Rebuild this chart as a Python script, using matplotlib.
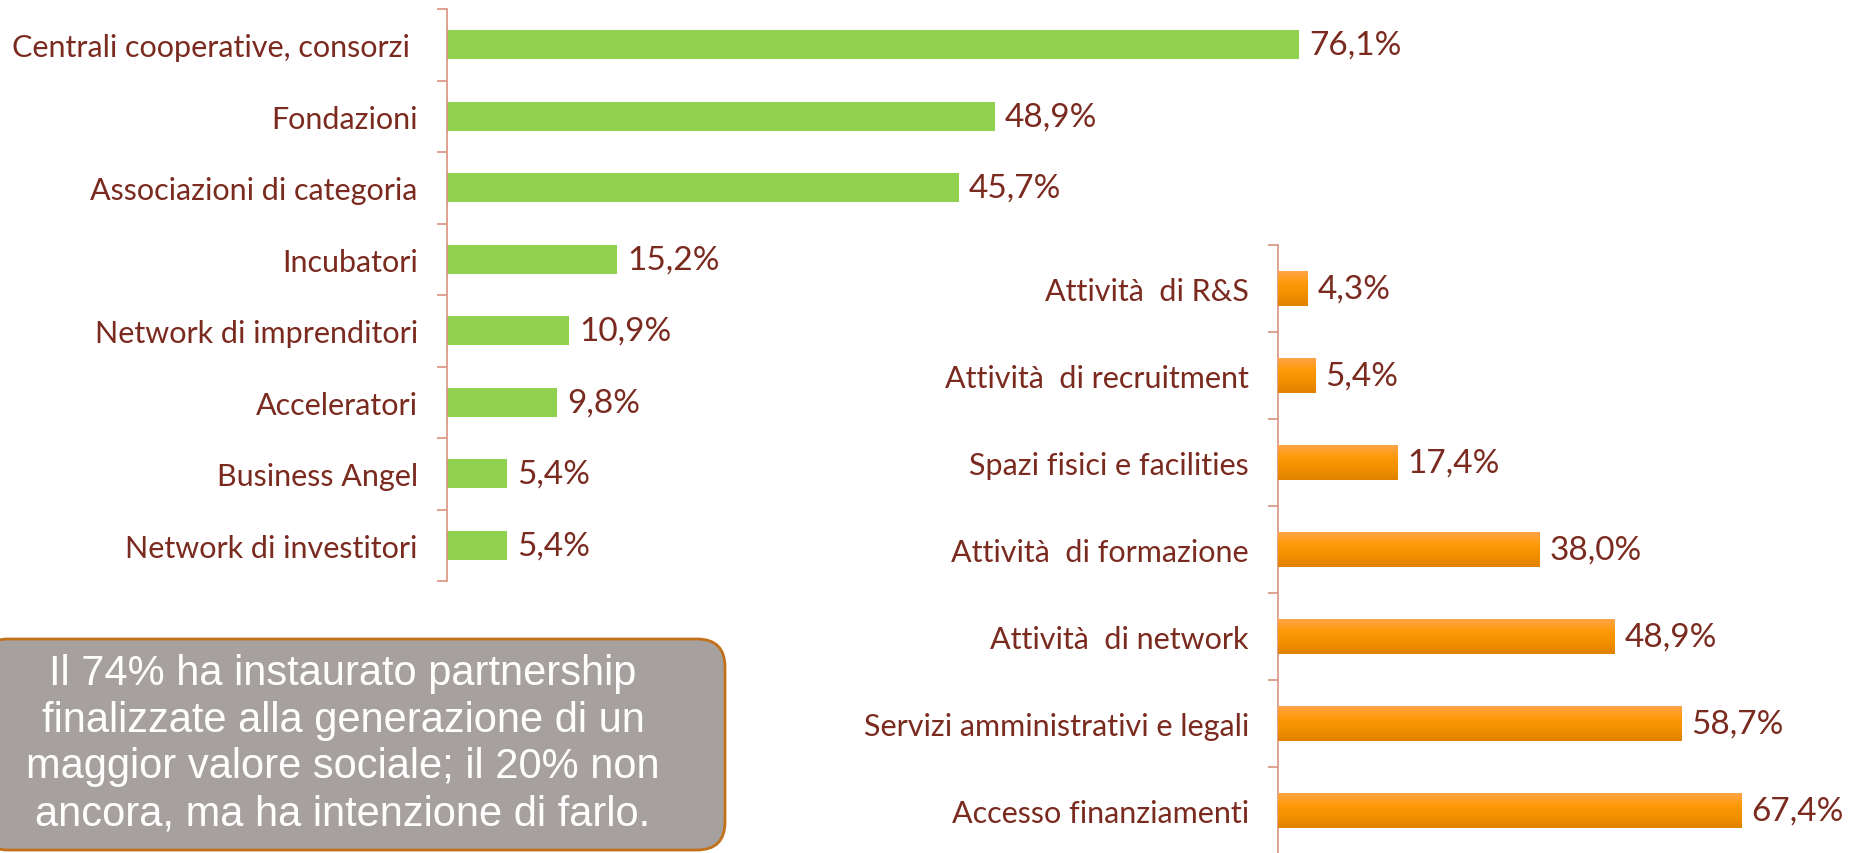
import numpy as np
import matplotlib
matplotlib.use("Agg")
from matplotlib import pyplot as plt
from matplotlib.patches import FancyBboxPatch
from matplotlib.colors import LinearSegmentedColormap

# data
partner_labels = ["Centrali cooperative, consorzi ", "Fondazioni", "Associazioni di categoria",
                  "Incubatori", "Network di imprenditori", "Acceleratori",
                  "Business Angel", "Network di investitori"]
partner_values = [76.1, 48.9, 45.7, 15.2, 10.9, 9.8, 5.4, 5.4]

service_labels = ["Attività  di R&S", "Attività  di recruitment", "Spazi fisici e facilities",
                  "Attività  di formazione", "Attività  di network",
                  "Servizi amministrativi e legali", "Accesso finanziamenti"]
service_values = [4.3, 5.4, 17.4, 38.0, 48.9, 58.7, 67.4]

note = ("Il 74% ha instaurato partnership\nfinalizzate alla generazione di un\n"
        "maggior valore sociale; il 20% non\nancora, ma ha intenzione di farlo.")

W, H = 1867, 854
TXT = "#7a2a1e"
AXC = "#d9927f"
FONT = ["Lato", "DejaVu Sans"]

fig = plt.figure(figsize=(W / 100, H / 100), dpi=100)


def fmt(v):
    return f"{v:.1f}".replace(".", ",") + "%"


def bar_panel(rect, labels, values, color, gradient=False):
    ax = fig.add_axes(rect)
    ax.set_facecolor("none")
    n = len(values)
    y = np.arange(n)
    bars = ax.barh(y, values, height=0.4, color=color, zorder=2)
    if gradient:
        cmap = LinearSegmentedColormap.from_list("og", ["#ffa548", "#ff9a0a", "#f29000", "#e08200"])
        grad = np.linspace(0, 1, 64).reshape(-1, 1)
        for b in bars:
            x0, y0 = b.get_x(), b.get_y()
            im = ax.imshow(grad, cmap=cmap, aspect="auto", zorder=3,
                           extent=(x0, x0 + b.get_width(), y0 + b.get_height(), y0))
            im.set_clip_path(b)
    ax.set_xlim(0, 80)
    ax.set_ylim(n - 0.5, -0.5)
    # ~10 px gap between bar end and value label
    off = 10 * 80 / (rect[2] * W)
    for yi, v in zip(y, values):
        ax.text(v + off, yi, fmt(v), va="center", ha="left",
                fontsize=24, color=TXT, family=FONT, clip_on=False)
    for s in ["top", "right", "bottom"]:
        ax.spines[s].set_visible(False)
    ax.spines["left"].set_color(AXC)
    ax.spines["left"].set_linewidth(1.2)
    ax.set_xticks([])
    ax.set_yticks(y)
    ax.set_yticklabels(labels, fontsize=22, color=TXT, family=FONT)
    ax.tick_params(axis="y", which="major", length=0, pad=21)
    ax.set_yticks(np.arange(n + 1) - 0.5, minor=True)
    ax.tick_params(axis="y", which="minor", length=7, width=1.2, color=AXC, direction="out")
    return ax


bar_panel([447 / W, 1 - 582 / H, 896 / W, 572 / H], partner_labels, partner_values, "#92d050")
bar_panel([1278 / W, 1 - 855 / H, 550 / W, 609 / H], service_labels, service_values, "#f79200",
          gradient=True)

# note box
ov = fig.add_axes([0, 0, 1, 1], zorder=5)
ov.set_xlim(0, W)
ov.set_ylim(H, 0)
ov.axis("off")
ov.add_patch(FancyBboxPatch((-20, 640), 745, 211, boxstyle="round,pad=0,rounding_size=28",
                            facecolor="#a6a19e", edgecolor="#c2701c", linewidth=2))
ov.text(343, 744, note, ha="center", va="center", color="white", fontsize=30,
        family="Liberation Sans", linespacing=1.22)

fig.savefig("out.png", dpi=100)
